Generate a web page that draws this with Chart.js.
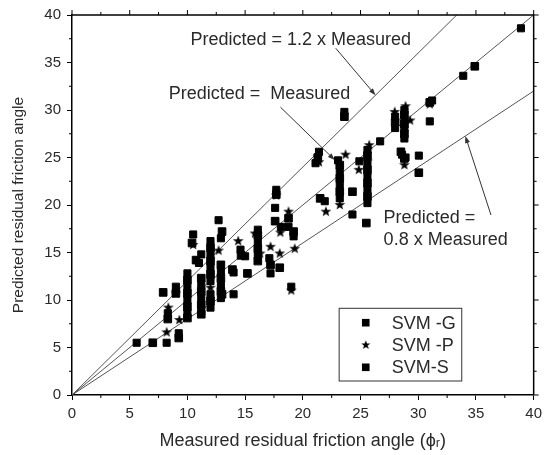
<!DOCTYPE html>
<html><head><meta charset="utf-8">
<script src="https://cdn.jsdelivr.net/npm/chart.js@4"></script>
<style>html,body{margin:0;padding:0;background:#fff}</style>
</head><body>
<canvas id="c" width="547" height="455"></canvas>
<script>
// ---------- data ----------
const xTicks = [0, 5, 10, 15, 20, 25, 30, 35, 40];
const yTicks = [0, 5, 10, 15, 20, 25, 30, 35, 40];
const seriesNames = ['SVM -G', 'SVM -P', 'SVM-S'];

const svmG = [
  [38.9,38.6],[33.9,33.6],[31.2,31.0],[31.0,28.8],[30.05,25.2],
  [28.8,30.0],[28.8,29.0],[28.8,28.0],[28.8,27.0],[28.0,29.3],[28.0,28.1],
  [28.6,25.3],[28.9,25.0],[26.7,26.7],[25.6,25.8],[25.6,24.4],[25.6,23.0],
  [25.6,21.6],[25.6,20.2],[24.9,24.6],[24.3,19.0],[23.6,29.8],[23.05,24.7],
  [23.2,23.5],[23.2,22.1],[23.2,20.7],[21.4,25.6],[21.1,24.4],[21.9,20.4],
  [17.7,21.6],[17.6,19.7],[18.1,17.7],[18.76,17.7],[19.2,16.7],[19.0,11.4],
  [16.1,17.4],[16.1,16.1],[16.1,14.7],[14.6,15.3],[15.0,14.6],[14.0,12.9],
  [14.0,10.6],[17.1,14.4],[17.2,12.8],[12.7,18.4],[12.9,16.5],[12.9,13.0],
  [12.9,11.6],[12.9,10.2],[12.0,16.2],[12.0,14.8],[12.0,13.4],[12.0,12.0],
  [12.0,10.6],[12.0,9.2],[11.2,14.8],[11.0,13.9],[11.2,11.6],[11.2,10.2],
  [11.2,8.8],[10.5,16.9],[10.0,12.8],[10.0,11.4],[10.0,10.0],[10.0,8.6],
  [9.0,11.4],[8.3,8.6],[9.25,6.5],[5.6,5.5],[8.2,5.5]
];
const svmP = [
  [31.0,30.6],[27.96,29.8],[28.9,30.4],[29.3,28.9],[25.75,26.3],[28.8,24.2],
  [23.7,25.3],[24.85,23.7],[25.6,24.6],[23.2,20.0],[22.0,19.3],[21.4,24.5],
  [18.76,19.3],[17.2,15.6],[18.0,14.9],[19.3,15.4],[19.0,11.0],[15.85,17.0],
  [14.4,16.2],[16.3,14.9],[12.7,15.2],[18.05,17.1],[10.5,15.8],[8.2,6.6],
  [9.3,7.9],[8.35,9.2],[9.0,10.7],[17.7,21.0],[21.3,25.1],[12.0,11.3]
];
const svmS = [
  [34.9,34.6],[31.0,30.8],[30.05,23.4],[28.8,29.5],[28.8,28.5],[28.8,27.5],
  [28.0,28.7],[28.5,25.6],[28.8,24.9],[25.6,25.2],[25.6,23.7],[25.6,22.3],
  [25.6,20.9],[25.5,18.1],[24.3,21.4],[23.6,29.3],[23.2,24.2],[23.2,22.8],
  [23.2,21.4],[21.3,25.0],[21.5,20.7],[17.7,21.1],[17.6,18.3],[18.76,18.6],
  [19.2,17.2],[16.1,16.8],[16.1,15.4],[16.1,14.1],[14.65,14.7],[13.9,13.2],
  [15.2,12.8],[13.0,10.6],[17.2,13.7],[18.0,13.4],[13.0,17.2],[12.9,13.7],
  [12.9,12.3],[12.9,10.9],[12.0,15.5],[12.0,14.1],[12.0,12.7],[12.0,9.9],
  [10.75,14.2],[11.2,12.3],[11.2,10.9],[11.2,9.5],[11.2,8.5],[10.4,16.0],
  [10.0,12.1],[10.0,10.7],[10.0,9.3],[10.0,8.1],[9.0,10.7],[7.9,10.8],
  [8.3,8.0],[9.25,6.0],[7.0,5.5]
];
const refRatios = [1.2, 1.0, 0.8];

// ---------- helpers ----------
function toPts(a){ return a.map(p => ({x:p[0], y:p[1]})); }
function starCanvas(R, r){
  const s = Math.ceil(R*2)+2, cv = document.createElement('canvas');
  cv.width = s; cv.height = s;
  const g = cv.getContext('2d'); g.fillStyle = '#000'; g.beginPath();
  for (let i=0;i<10;i++){
    const a = -Math.PI/2 + i*Math.PI/5, rr = i%2 ? r : R;
    const px = s/2 + rr*Math.cos(a), py = s/2 + rr*Math.sin(a);
    i ? g.lineTo(px,py) : g.moveTo(px,py);
  }
  g.closePath(); g.fill(); return cv;
}
const star = starCanvas(5.6, 2.3);
const starSmall = starCanvas(4.8, 2.0);

const FONT = '"Liberation Sans", Arial, sans-serif';
const TXT = '#2a2a2a';

const annot = {
  texts: [
    {t:'Predicted = 1.2 x Measured', x:10.26, y:37.37},
    {t:'Predicted =  Measured', x:8.38, y:31.65},
    {t:'Predicted =', x:27.0, y:18.63},
    {t:'0.8 x Measured', x:27.0, y:16.3}
  ],
  arrows: [
    {x1:22.85, y1:36.5, x2:26.3, y2:31.56},
    {x1:18.06, y1:30.3, x2:22.76, y2:24.74},
    {x1:36.3, y1:18.95, x2:34.08, y2:27.26}
  ]
};

const framePlugin = {
  id:'frame',
  afterDatasetsDraw(chart){
    const {ctx, chartArea:a, scales:{x, y}} = chart;
    ctx.save();
    ctx.strokeStyle = '#000'; ctx.lineWidth = 1.5;
    ctx.beginPath(); ctx.moveTo(a.left, a.top); ctx.lineTo(a.right, a.top); ctx.lineTo(a.right, a.bottom); ctx.stroke();
    ctx.lineWidth = 1;
    ctx.beginPath();
    for (let v=0; v<=40; v+=2.5){
      const major = v % 5 === 0, L = major ? 5 : 3;
      const px = x.getPixelForValue(v), py = y.getPixelForValue(v);
      ctx.moveTo(px, a.top); ctx.lineTo(px, a.top - L);
      ctx.moveTo(a.right, py); ctx.lineTo(a.right + L, py);
      if (!major){
        ctx.moveTo(px, a.bottom); ctx.lineTo(px, a.bottom + L);
        ctx.moveTo(a.left, py); ctx.lineTo(a.left - L, py);
      }
    }
    ctx.stroke();
    ctx.font = '18px ' + FONT; ctx.fillStyle = TXT; ctx.textBaseline = 'middle'; ctx.textAlign = 'left';
    annot.texts.forEach(t => ctx.fillText(t.t, x.getPixelForValue(t.x), y.getPixelForValue(t.y)));
    ctx.strokeStyle = '#333'; ctx.fillStyle = '#333'; ctx.lineWidth = 1;
    annot.arrows.forEach(ar => {
      const x1 = x.getPixelForValue(ar.x1), y1 = y.getPixelForValue(ar.y1);
      const x2 = x.getPixelForValue(ar.x2), y2 = y.getPixelForValue(ar.y2);
      const ang = Math.atan2(y2-y1, x2-x1), h = 7, w = 2.5;
      ctx.beginPath(); ctx.moveTo(x1,y1); ctx.lineTo(x2 - h*0.6*Math.cos(ang), y2 - h*0.6*Math.sin(ang)); ctx.stroke();
      ctx.beginPath();
      ctx.moveTo(x2, y2);
      ctx.lineTo(x2 - h*Math.cos(ang) + w*Math.sin(ang), y2 - h*Math.sin(ang) - w*Math.cos(ang));
      ctx.lineTo(x2 - h*Math.cos(ang) - w*Math.sin(ang), y2 - h*Math.sin(ang) + w*Math.cos(ang));
      ctx.closePath(); ctx.fill();
    });
    const bx = a.right - 194.5, by = a.bottom - 86.7, bw = 122.6, bh = 72.7;
    ctx.fillStyle = '#fff'; ctx.fillRect(bx, by, bw, bh);
    ctx.strokeStyle = '#333'; ctx.lineWidth = 1; ctx.strokeRect(bx, by, bw, bh);
    const rows = [by + 14.4, by + 36.7, by + 59];
    ctx.fillStyle = '#000';
    ctx.fillRect(bx + 26.6 - 3.8, rows[0] - 3.8, 7.6, 7.6);
    ctx.drawImage(starSmall, bx + 26.6 - starSmall.width/2, rows[1] - starSmall.height/2);
    ctx.fillRect(bx + 26.6 - 3.8, rows[2] - 3.8, 7.6, 7.6);
    ctx.fillStyle = TXT; ctx.font = '18px ' + FONT;
    seriesNames.forEach((n,i) => ctx.fillText(n, bx + 52.6, rows[i] + 1));
    ctx.restore();
  }
};

const lineSets = refRatios.map(r => ({
  type:'line', data:[{x:0,y:0},{x:40,y:40*r}], borderColor:'#555', borderWidth:1,
  pointRadius:0, fill:false, order:5
}));

new Chart(document.getElementById('c'), {
  type:'scatter',
  data:{ datasets:[
    {label:seriesNames[0], data:toPts(svmG), pointStyle:'rect', radius:5, backgroundColor:'#000', borderColor:'#000', borderWidth:1, order:1},
    {label:seriesNames[1], data:toPts(svmP), pointStyle:star, radius:6, backgroundColor:'#000', borderColor:'#000', order:0},
    {label:seriesNames[2], data:toPts(svmS), pointStyle:'rect', radius:5.4, backgroundColor:'#000', borderColor:'#000', borderWidth:1, order:2},
    ...lineSets
  ]},
  options:{
    responsive:false, animation:false, devicePixelRatio:1,
    layout:{ padding:{top:15, right:7, left:0, bottom:0} },
    plugins:{ legend:{display:false}, tooltip:{enabled:false} },
    scales:{
      x:{ type:'linear', min:0, max:40,
        afterBuildTicks: s => { s.ticks = xTicks.map(v => ({value:v})); },
        afterFit: s => { s.height = 60; },
        ticks:{ font:{size:15, family:FONT}, color:TXT, padding:5, maxRotation:0 },
        grid:{ drawOnChartArea:false, drawTicks:true, tickLength:5, tickColor:'#000', tickWidth:1 },
        border:{ display:true, color:'#000', width:1.5 },
        title:{ display:true, text:'Measured residual friction angle (\u03D5\u1D63)', font:{size:18, family:FONT}, color:TXT, padding:{top:0, bottom:3} }
      },
      y:{ type:'linear', min:0, max:40,
        afterBuildTicks: s => { s.ticks = yTicks.map(v => ({value:v})); },
        afterFit: s => { s.width = 72; },
        ticks:{ font:{size:15, family:FONT}, color:TXT, padding:6 },
        grid:{ drawOnChartArea:false, drawTicks:true, tickLength:5, tickColor:'#000', tickWidth:1 },
        border:{ display:true, color:'#000', width:1.5 },
        title:{ display:true, text:'Predicted residual friction angle', font:{size:15.5, family:FONT}, color:TXT, padding:{top:9, bottom:0} }
      }
    }
  },
  plugins:[framePlugin]
});
</script>
</body></html>
